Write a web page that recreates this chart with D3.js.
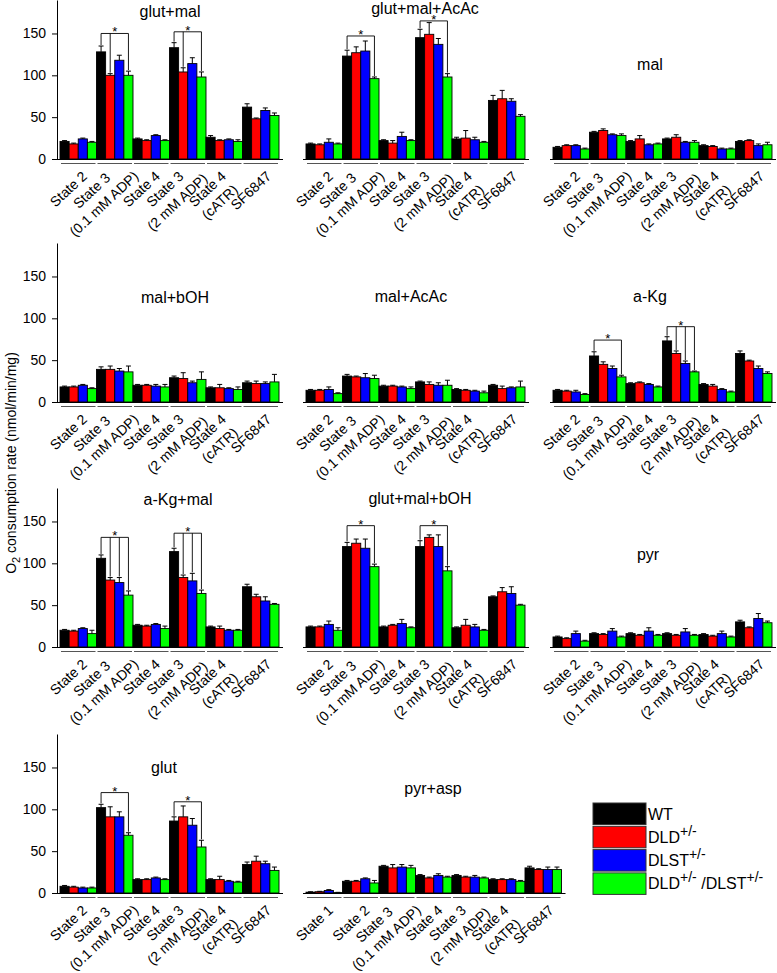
<!DOCTYPE html>
<html><head><meta charset="utf-8">
<script src="https://cdn.jsdelivr.net/npm/d3@7"></script>
<style>
body{margin:0;background:#fff}
svg{display:block}
text{font-family:"Liberation Sans",Arial,Helvetica,sans-serif;fill:#000}
</style>
</head><body>
<svg id="c" width="777" height="973"></svg>
<script>
// ---------------- DATA ----------------
const seriesNames = ["WT", "DLD", "DLST", "DLD/DLST"];
const categories = ["State 2", "State 3|(0.1 mM ADP)", "State 4", "State 3|(2 mM ADP)", "State 4|(cATR)", "SF6847"];
const categoriesPyrAsp = ["State 1", "State 2", "State 3|(0.1 mM ADP)", "State 4", "State 3|(2 mM ADP)", "State 4|(cATR)", "SF6847"];
const panelTitles = ["glut+mal", "glut+mal+AcAc", "mal", "mal+bOH", "mal+AcAc", "a-Kg", "a-Kg+mal", "glut+mal+bOH", "pyr", "glut", "pyr+asp"];
const yTicks = [0, 50, 100, 150];
const yMax = 190;

// means per group: [WT, DLD+/-, DLST+/-, DLD+/-/DLST+/-]
const glutMalMean = [[21,18,24,20],[128,100,118,100],[24,22,28,22],[133,104,114,98],[26,22,23,21],[62,48,58,52]];
const glutMalErr  = [[1,1,1,1],[7,2,6,5],[1,1,1,1],[6,5,7,6],[2,1,1,2],[4,1,3,3]];
const glutMalAcAcMean = [[18,17,20,18],[123,127,129,96],[22,19,27,22],[145,149,137,98],[24,25,23,20],[70,72,69,51]];
const glutMalAcAcErr  = [[1,1,4,1],[7,7,12,2],[1,3,5,1],[10,14,7,4],[2,9,3,1],[6,10,3,2]];
const malMean = [[14,16,16,12],[32,34,29,28],[21,24,17,18],[24,26,20,20],[16,15,12,12],[21,22,16,17]];
const malErr  = [[1,1,1,1],[1,2,1,2],[1,4,1,1],[1,3,1,2],[1,1,1,1],[1,1,2,3]];
const malBOHMean = [[18,18,20,16],[39,39,37,36],[20,20,19,18],[29,28,23,27],[17,17,16,15],[23,22,22,24]];
const malBOHErr  = [[1,1,1,1],[3,4,3,7],[1,1,2,3],[2,7,2,9],[1,4,1,3],[2,3,2,9]];
const malAcAcMean = [[14,14,15,10],[31,30,29,28],[19,19,18,16],[24,21,20,20],[15,14,13,11],[20,16,17,18]];
const malAcAcErr  = [[1,1,3,1],[2,1,5,4],[1,1,1,2],[1,3,3,6],[1,1,1,2],[1,3,1,7]];
const aKgMean = [[14,13,12,9],[55,45,40,30],[22,23,21,18],[73,58,46,36],[21,19,15,12],[58,49,40,34]];
const aKgErr  = [[1,1,2,1],[5,3,3,2],[1,1,1,1],[5,3,3,1],[1,2,1,1],[3,1,3,2]];
const aKgMalMean = [[20,19,22,16],[106,80,77,62],[26,25,27,22],[114,83,79,64],[24,22,20,20],[72,60,55,51]];
const aKgMalErr  = [[1,1,1,4],[4,3,6,5],[1,1,1,3],[4,3,9,4],[1,3,1,1],[3,3,5,1]];
const glutMalBOHMean = [[24,24,27,20],[120,124,118,96],[24,26,28,23],[120,131,120,91],[23,26,24,20],[60,66,64,50]];
const glutMalBOHErr  = [[1,1,4,3],[5,5,11,3],[1,1,5,1],[7,3,14,5],[1,7,3,1],[1,5,8,1]];
const pyrMean = [[12,10,16,7],[16,15,19,12],[16,14,19,14],[16,14,18,14],[15,13,16,12],[30,23,34,29]];
const pyrErr  = [[1,1,3,1],[1,1,3,1],[1,1,4,1],[1,1,4,1],[1,1,3,1],[2,1,6,2]];
const glutMean = [[8,7,6,6],[102,91,91,69],[16,16,18,16],[86,91,81,55],[16,16,14,13],[34,38,35,27]];
const glutErr  = [[1,1,1,1],[4,12,6,3],[1,1,1,1],[5,13,8,8],[1,4,1,1],[3,6,3,4]];
const pyrAspMean = [[1,1.5,3,0.5],[14,14,17,12],[32,30,31,30],[21,18,21,19],[21,19,19,18],[16,16,16,14],[30,28,28,28]];
const pyrAspErr  = [[0.5,0.5,1,0.3],[1,1,1,3],[1,4,3,3],[1,1,2,1],[1,1,2,1],[1,1,1,1],[2,1,3,3]];

// significance brackets: group index, compared bars (vs WT), bracket level (y value)
const brackets = [
  {panel:"glut+mal", group:1, bars:[1,3], level:150},
  {panel:"glut+mal", group:3, bars:[1,3], level:152},
  {panel:"glut+mal+AcAc", group:1, bars:[3], level:147},
  {panel:"glut+mal+AcAc", group:3, bars:[3], level:165},
  {panel:"a-Kg", group:1, bars:[3], level:74},
  {panel:"a-Kg", group:3, bars:[1,2,3], level:90},
  {panel:"a-Kg+mal", group:1, bars:[1,2,3], level:131},
  {panel:"a-Kg+mal", group:3, bars:[1,2,3], level:136},
  {panel:"glut+mal+bOH", group:1, bars:[3], level:145},
  {panel:"glut+mal+bOH", group:3, bars:[3], level:145},
  {panel:"glut", group:1, bars:[3], level:120},
  {panel:"glut", group:3, bars:[3], level:109}
];

const panelData = {
  "glut+mal": [glutMalMean, glutMalErr],
  "glut+mal+AcAc": [glutMalAcAcMean, glutMalAcAcErr],
  "mal": [malMean, malErr],
  "mal+bOH": [malBOHMean, malBOHErr],
  "mal+AcAc": [malAcAcMean, malAcAcErr],
  "a-Kg": [aKgMean, aKgErr],
  "a-Kg+mal": [aKgMalMean, aKgMalErr],
  "glut+mal+bOH": [glutMalBOHMean, glutMalBOHErr],
  "pyr": [pyrMean, pyrErr],
  "glut": [glutMean, glutErr],
  "pyr+asp": [pyrAspMean, pyrAspErr]
};

// ---------------- LAYOUT ----------------
const colors = ["#000000", "#ff0000", "#0000ff", "#00ff00"];
const colX = [60, 306, 553];
const rowZero = [159, 402, 647, 893];
const groupW = 36.5;
const plotH = 159;
const titlePos = [[170,17],[425,14],[650,70],[175,303],[411,302],[650,302],[178,505],[420,504],[648,560],[164,773],[433,794]];
const LH = 18;
const LABEL_FS = 14;
const ANG = 43;

const svg = d3.select("#c");

function rotLabel(parent, lines, cx, top) {
  const fs = LABEL_FS, capH = 0.72 * fs, desc = 0.21 * fs;
  const g = parent.append("g");
  const t = g.append("text").attr("font-size", fs).attr("text-anchor", "middle");
  const ws = [];
  lines.forEach((l, k) => {
    const ts = t.append("tspan").attr("x", 0).attr("y", k * LH).text(l);
    ws.push(ts.node().getComputedTextLength());
  });
  const a = ANG * Math.PI / 180, ca = Math.cos(a), sa = Math.sin(a);
  let minX = Infinity, maxX = -Infinity, minY = Infinity;
  lines.forEach((l, k) => {
    const hasDesc = /[(),]/.test(l);
    const us = [-ws[k] / 2, ws[k] / 2], vs = [k * LH - capH, k * LH + (hasDesc ? desc : 0)];
    us.forEach(u => vs.forEach(v => {
      const X = u * ca + v * sa, Y = -u * sa + v * ca;
      minX = Math.min(minX, X); maxX = Math.max(maxX, X); minY = Math.min(minY, Y);
    }));
  });
  g.attr("transform", `translate(${cx - (minX + maxX) / 2},${top - minY}) rotate(${-ANG})`);
}

panelTitles.forEach((title, i) => {
  const col = i % 3, row = Math.floor(i / 3);
  const cats = title === "pyr+asp" ? categoriesPyrAsp : categories;
  const [means, errs] = panelData[title];
  const zero = rowZero[row];
  const x0 = colX[col];
  const x = d3.scaleBand().domain(cats).range([x0, x0 + groupW * cats.length]).padding(0);
  const xs = d3.scaleBand().domain(d3.range(seriesNames.length)).range([0, x.bandwidth()]).padding(0);
  const y = d3.scaleLinear().domain([0, yMax]).range([zero, zero - plotH]);
  const g = svg.append("g");

  // bars
  cats.forEach((c, gi) => {
    means[gi].forEach((v, si) => {
      const bx = x(c) + xs(si);
      g.append("rect").attr("x", bx).attr("y", y(v)).attr("width", xs.bandwidth())
        .attr("height", Math.max(0, y(0) - y(v)))
        .attr("fill", colors[si]).attr("stroke", "#000").attr("stroke-width", 0.9);
      const e = errs[gi][si];
      const cxb = bx + xs.bandwidth() / 2;
      g.append("line").attr("x1", cxb).attr("x2", cxb).attr("y1", y(v)).attr("y2", y(v + e))
        .attr("stroke", "#000").attr("stroke-width", 1);
      g.append("line").attr("x1", cxb - 2.5).attr("x2", cxb + 2.5).attr("y1", y(v + e)).attr("y2", y(v + e))
        .attr("stroke", "#000").attr("stroke-width", 1);
    });
  });

  // baseline
  const r = x.range();
  g.append("line").attr("x1", r[0] - 3).attr("x2", r[1] + 4).attr("y1", zero + 0.5).attr("y2", zero + 0.5)
    .attr("stroke", "#000").attr("stroke-width", 1.2);
  // group underlines
  cats.forEach(c => {
    g.append("line").attr("x1", x(c) + 1).attr("x2", x(c) + x.bandwidth() - 1)
      .attr("y1", zero + 4.5).attr("y2", zero + 4.5).attr("stroke", "#555").attr("stroke-width", 1);
  });

  // y axis (left column only)
  if (col === 0) {
    const ax = g.append("g").attr("transform", `translate(${x0 - 3},0)`)
      .call(d3.axisLeft(y).tickValues(yTicks).tickSize(5).tickSizeOuter(0).tickPadding(6));
    ax.select(".domain").attr("stroke", "#000").attr("stroke-width", 1);
    ax.selectAll(".tick line").attr("stroke", "#000");
    ax.selectAll(".tick text").attr("font-size", 14).attr("font-family", '"Liberation Sans",Arial,sans-serif').attr("fill", "#000");
  }

  // tick labels
  cats.forEach(c => {
    rotLabel(g, c.split("|"), x(c) + x.bandwidth() / 2 - 10, zero + 11);
  });

  // title
  g.append("text").attr("x", titlePos[i][0]).attr("y", titlePos[i][1]).attr("text-anchor", "middle")
    .attr("font-size", 16).text(title);

  // brackets
  brackets.filter(b => b.panel === title).forEach(b => {
    const c = cats[b.group];
    const cxOf = si => x(c) + xs(si) + xs.bandwidth() / 2;
    const ly = y(b.level);
    const topOf = si => y(means[b.group][si] + errs[b.group][si]);
    const last = b.bars[b.bars.length - 1];
    const ln = (x1, y1, x2, y2) => g.append("line").attr("x1", x1).attr("y1", y1).attr("x2", x2).attr("y2", y2)
      .attr("stroke", "#000").attr("stroke-width", 0.9);
    ln(cxOf(0), ly, cxOf(last), ly);
    ln(cxOf(0), ly, cxOf(0), topOf(0) - 1);
    b.bars.forEach(si => ln(cxOf(si), ly, cxOf(si), topOf(si) - 1));
    g.append("text").attr("x", (cxOf(0) + cxOf(last)) / 2).attr("y", ly + 3).attr("text-anchor", "middle")
      .attr("font-size", 13).text("*");
  });
});

// y-axis title
const yt = svg.append("text").attr("transform", "translate(16,463) rotate(-90)").attr("text-anchor", "middle")
  .attr("font-size", 14);
yt.append("tspan").text("O");
yt.append("tspan").attr("dy", 4).attr("font-size", 11).text("2");
yt.append("tspan").attr("dy", -4).text(" consumption rate (nmol/min/mg)");

// legend
const legendLabels = [["WT"], ["DLD", "+/-"], ["DLST", "+/-"], ["DLD", "+/-", " /DLST", "+/-"]];
const lg = svg.append("g");
seriesNames.forEach((s, i) => {
  const yy = 803 + i * 23.3;
  lg.append("rect").attr("x", 593).attr("y", yy).attr("width", 53).attr("height", 21.5)
    .attr("fill", colors[i]).attr("stroke", "#333").attr("stroke-width", 1);
  const t = lg.append("text").attr("x", 648).attr("y", yy + 16.5).attr("font-size", 16);
  legendLabels[i].forEach((p, k) => {
    if (k % 2 === 0) {
      t.append("tspan").attr("dy", k === 0 ? 0 : 7).attr("font-size", 16).text(p);
    } else {
      t.append("tspan").attr("dy", -7).attr("font-size", 14).text(p);
    }
  });
});
</script>
</body></html>
